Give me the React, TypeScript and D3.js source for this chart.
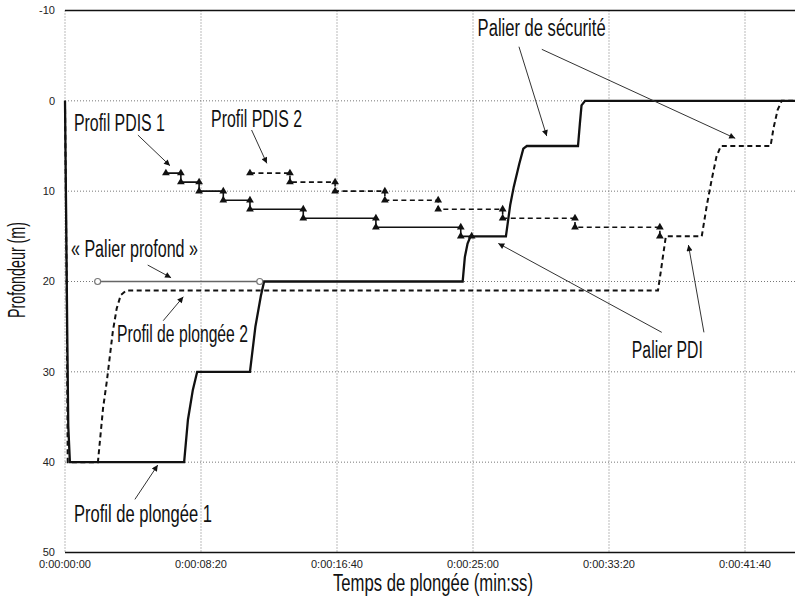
import React from "react";
import * as d3 from "d3";

// time in seconds, depth in metres
const profile1: [number, number][] = [
  [0, 0], [4, 12], [8, 25], [12, 36], [18, 40], [438, 40], [452, 35.3], [470, 32], [486, 30],
  [680, 30], [700, 25], [720, 21.6], [732, 20], [1462, 20], [1470, 17.3], [1480, 15.8], [1491, 15],
  [1621, 15], [1637, 11.5], [1650, 9.5], [1670, 7], [1685, 5.3], [1698, 5], [1886, 5], [1893, 2.5],
  [1899, 0.5], [1912, 0], [2700, 0],
];
const profile2: [number, number][] = [
  [0, 0], [6, 20], [10, 40], [121, 40], [140, 34], [154, 31], [166, 28], [176, 25.5], [190, 23],
  [205, 21.5], [225, 21], [2180, 21], [2190, 19], [2197, 17.5], [2209, 15], [2341, 15], [2360, 11.5],
  [2377, 8.8], [2395, 6.2], [2411, 5], [2594, 5], [2605, 3], [2620, 1], [2635, 0], [2700, 0],
];
const pdis1: [number, number][] = [
  [371, 8], [426, 8], [426, 9], [493, 9], [493, 10], [582, 10], [582, 11], [680, 11], [680, 12],
  [876, 12], [876, 13], [1143, 13], [1143, 14], [1455, 14], [1455, 15], [1495, 15],
];
const pdis2: [number, number][] = [
  [680, 8], [827, 8], [827, 9], [993, 9], [993, 10], [1176, 10], [1176, 11], [1372, 11], [1372, 12],
  [1609, 12], [1609, 13], [1875, 13], [1875, 14], [2187, 14], [2187, 15],
];
const palierProfond: [number, number][] = [[120, 20], [716, 20]];

const xTicks = [0, 500, 1000, 1500, 2000, 2500];
const yTicks = [-10, 0, 10, 20, 30, 40, 50];

const labels = ["Profil PDIS 1", "Profil PDIS 2", "« Palier profond »", "Profil de plongée 2", "Palier PDI", "Profil de plongée 1", "Palier de sécurité"];
// label anchor: [time, depth of baseline], text width in px
const labelPos: [number, number, number][] = [
  [33, 3.31, 91], [537, 2.87, 91], [22, 17.29, 127], [191, 26.67, 131], [2084, 28.5, 71], [33, 46.6, 138], [1517, -7.17, 128],
];
// arrows: [t0, d0, t1, d1] pointing to (t1, d1)
const arrows: [number, number, number, number][] = [
  [268, 3.79, 386, 7.18],
  [686, 3.23, 742, 6.92],
  [304, 18.18, 390, 19.58],
  [361, 24.34, 435, 21.69],
  [2194, 25.63, 1593, 15.78],
  [2349, 25.63, 2292, 15.96],
  [1669, -5.99, 1771, 3.9],
  [1753, -5.7, 2464, 4.15],
  [257, 44.12, 341, 40.32],
];

const W = 795, H = 600;
const x = d3.scaleLinear().domain([0, 2700]).range([65, 65 + 2700 * 136 / 500]);
const y = d3.scaleLinear().domain([-10, 50]).range([10.5, 552.5]);
const line = d3.line<[number, number]>().x(d => x(d[0])).y(d => y(d[1]));
const tri = d3.symbol().type(d3.symbolTriangle).size(26)()!;

const fmt = (t: number) => {
  const m = Math.floor(t / 60), s = t % 60;
  return `0:00:${String(m).padStart(2, "0")}:${String(s).padStart(2, "0")}`;
};

const narrow = "'Liberation Sans Narrow', 'Arial Narrow', 'Liberation Sans', sans-serif";

export default function App() {
  const left = x(0), right = W, top = y(-10), bottom = y(50);
  return (
    <svg width={W} height={H} style={{ position: "absolute", left: 0, top: 0, background: "#fff" }}>
      <defs>
        <clipPath id="plot"><rect x={left - 3} y={top} width={right - left + 3} height={bottom - top} /></clipPath>
        <marker id="ah" viewBox="0 0 10 10" refX="10" refY="5" markerWidth="8" markerHeight="6" markerUnits="userSpaceOnUse" orient="auto">
          <path d="M0,0 L10,5 L0,10 z" fill="#111" />
        </marker>
      </defs>
      <rect x={0} y={0} width={W} height={H} fill="#fff" />
      {/* grid */}
      {xTicks.map(t => (
        <line key={"gx" + t} x1={x(t)} x2={x(t)} y1={top} y2={bottom} stroke="#777" strokeWidth={1} strokeDasharray="1,2" />
      ))}
      {yTicks.filter(v => v > -10 && v < 50).map(v => (
        <line key={"gy" + v} x1={left} x2={right} y1={y(v)} y2={y(v)} stroke="#777" strokeWidth={1} strokeDasharray="1,2" />
      ))}
      <line x1={left} x2={right} y1={top} y2={top} stroke="#111" strokeWidth={1.5} />
      <line x1={left} x2={right} y1={bottom} y2={bottom} stroke="#111" strokeWidth={1.5} />
      {/* ticks labels */}
      {yTicks.map(v => (
        <text key={"ty" + v} x={55} y={y(v)} dy="0.35em" textAnchor="end" fontFamily="'Liberation Sans', Arial, sans-serif" fontSize={11} fill="#222">{v}</text>
      ))}
      {xTicks.map(t => (
        <text key={"tx" + t} x={x(t)} y={568} textAnchor="middle" fontFamily="'Liberation Sans', Arial, sans-serif" fontSize={11} fill="#222">{fmt(t)}</text>
      ))}
      <g clipPath="url(#plot)">
        <path d={line(profile2)!} fill="none" stroke="#111" strokeWidth={2} strokeDasharray="5,3.5" />
        <path d={line(pdis2)!} fill="none" stroke="#111" strokeWidth={1.6} strokeDasharray="5,3.5" />
        <path d={line(pdis1)!} fill="none" stroke="#111" strokeWidth={1.6} />
        <path d={line(palierProfond)!} fill="none" stroke="#666" strokeWidth={1.6} />
        <path d={line(profile1)!} fill="none" stroke="#111" strokeWidth={2.3} />
        {[...pdis1, ...pdis2].map((p, i) => (
          <path key={"m" + i} d={tri} transform={`translate(${x(p[0])},${y(p[1])})`} fill="#111" />
        ))}
        {palierProfond.map((p, i) => (
          <circle key={"c" + i} cx={x(p[0])} cy={y(p[1])} r={3} fill="#fff" stroke="#777" strokeWidth={1.2} />
        ))}
      </g>
      {arrows.map((a, i) => (
        <line key={"a" + i} x1={x(a[0])} y1={y(a[1])} x2={x(a[2])} y2={y(a[3])} stroke="#333" strokeWidth={1} markerEnd="url(#ah)" />
      ))}
      {labels.map((s, i) => (
        <text key={"l" + i} x={x(labelPos[i][0])} y={y(labelPos[i][1])} fontFamily={narrow} fontSize={23.5} fill="#111"
          textLength={labelPos[i][2]} lengthAdjust="spacingAndGlyphs">{s}</text>
      ))}
      <text x={333} y={591} fontFamily={narrow} fontSize={23} fill="#111" textLength={200} lengthAdjust="spacingAndGlyphs">Temps de plongée (min:ss)</text>
      <text transform={`translate(25,270) rotate(-90)`} textAnchor="middle" fontFamily={narrow} fontSize={23} fill="#111" textLength={96} lengthAdjust="spacingAndGlyphs">Profondeur (m)</text>
    </svg>
  );
}
